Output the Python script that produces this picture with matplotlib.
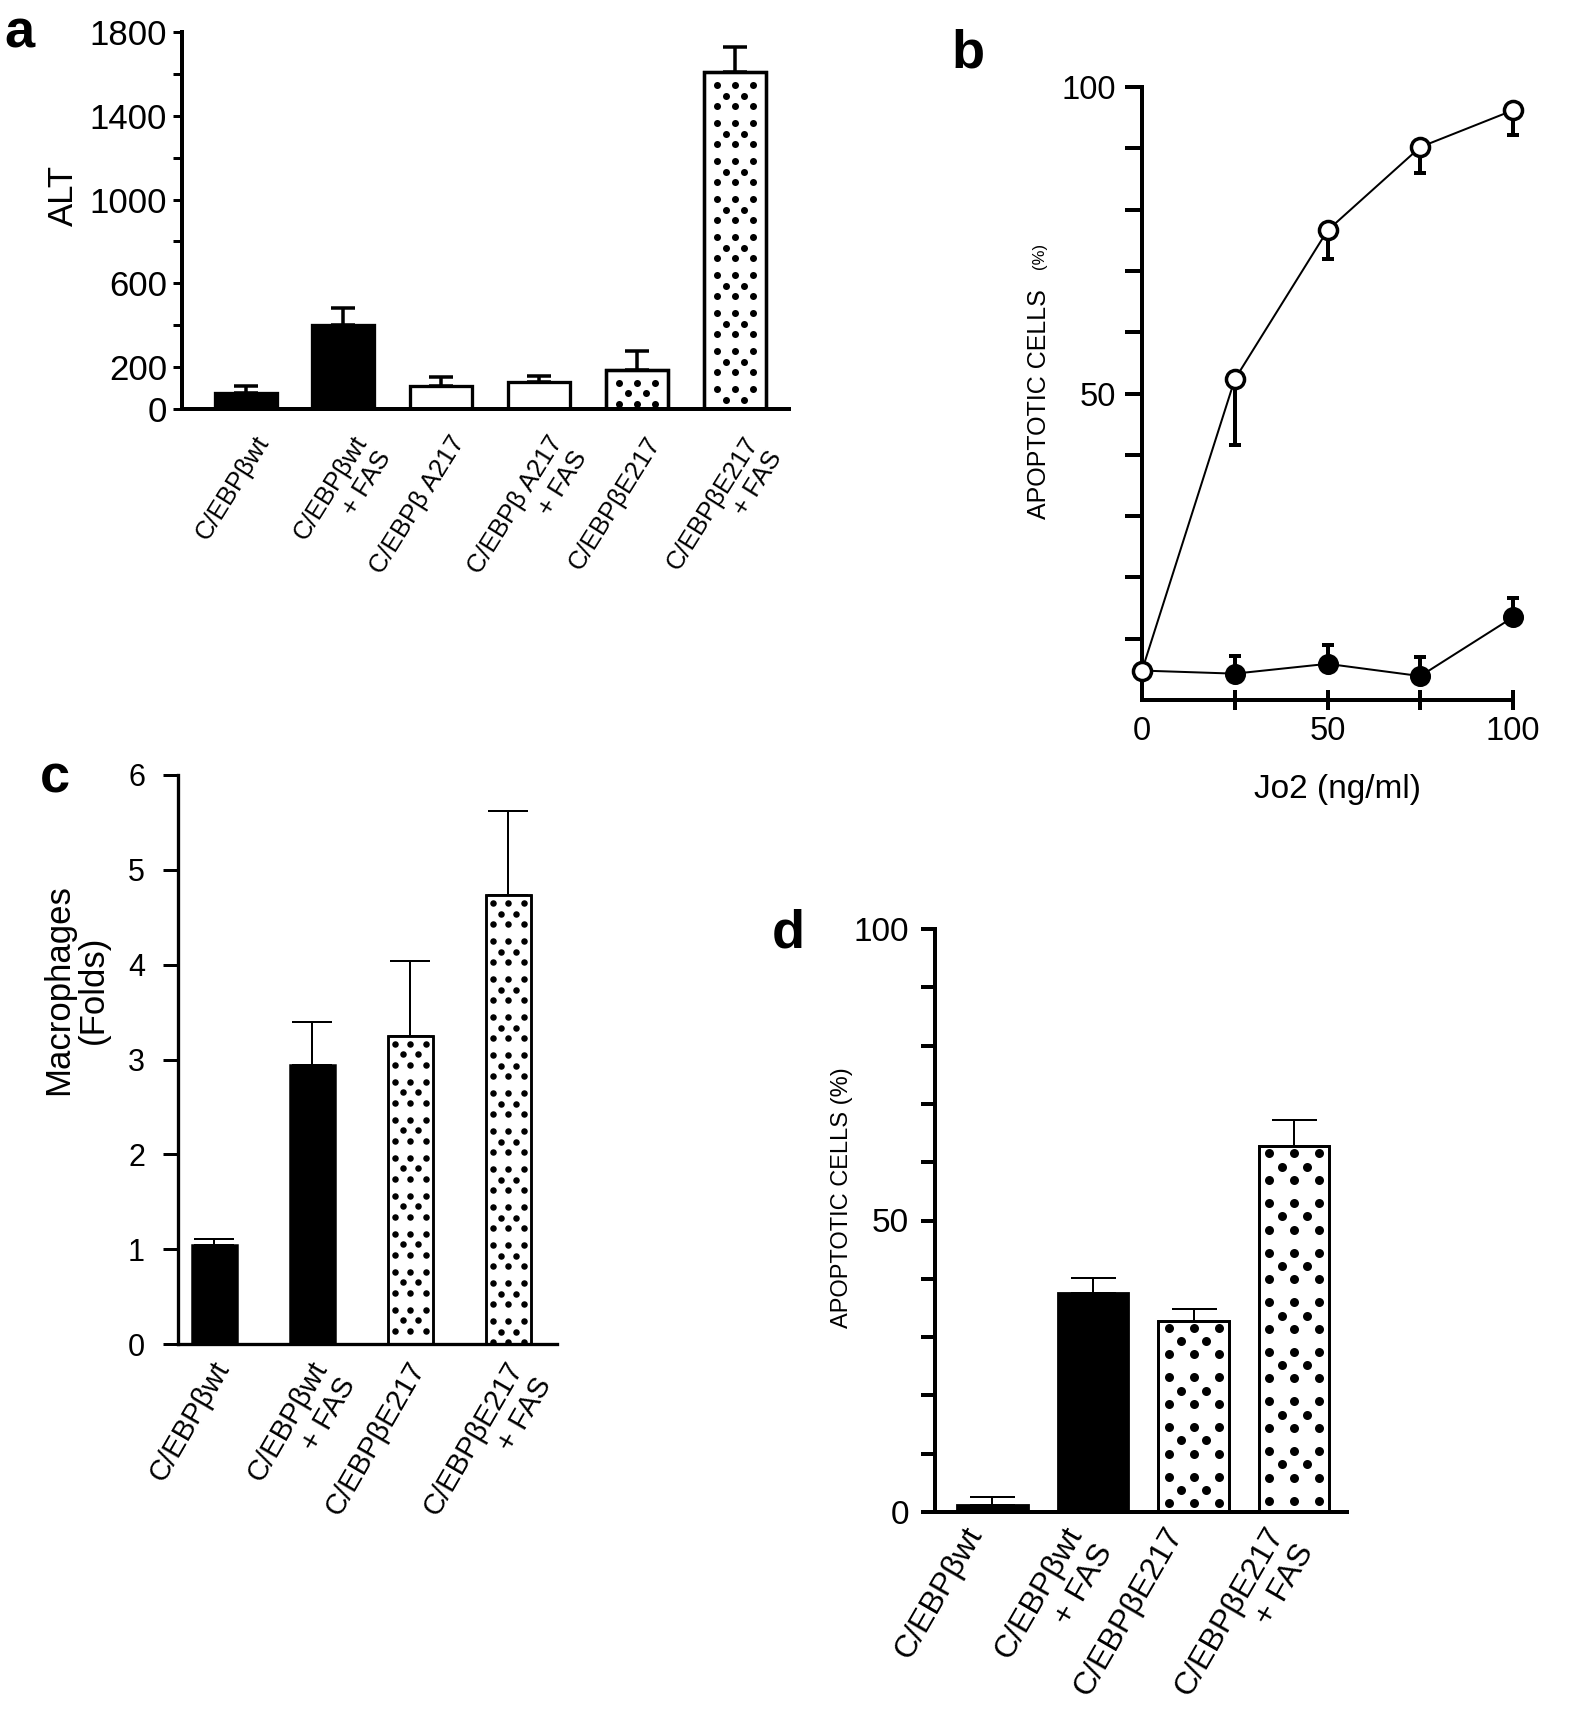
import numpy as np
import matplotlib
matplotlib.use('Agg')
import matplotlib.pyplot as plt

plt.rcParams['font.family'] = ['Liberation Sans', 'DejaVu Sans']

W, H, DPI = 1575, 1727, 100

# ---------
# Data
# ---------
a_labels = ['C/EBPβwt', 'C/EBPβwt\n+ FAS', 'C/EBPβ A217', 'C/EBPβ A217\n+ FAS',
            'C/EBPβE217', 'C/EBPβE217\n+ FAS']
a_values = [78, 401, 111, 127, 187, 1607]
a_err = [33, 81, 40, 32, 92, 119]
a_fill = ['black', 'black', 'open', 'open', 'dots', 'dots']
a_ticks = [0, 200, 400, 600, 800, 1000, 1200, 1400, 1600, 1800]
a_ticklabels = ['0', '200', '', '600', '', '1000', '', '1400', '', '1800']

b_dose = [0, 25, 50, 75, 100]
b_open = [4.8, 52.3, 76.6, 90.2, 96.2]
b_open_err = [0, 10.7, 4.6, 4.2, 4.0]
b_filled = [4.8, 4.3, 5.9, 3.9, 13.5]
b_filled_err = [0, 2.9, 3.1, 3.1, 3.2]

c_labels = ['C/EBPβwt', 'C/EBPβwt\n+ FAS', 'C/EBPβE217', 'C/EBPβE217\n+ FAS']
c_values = [1.04, 2.94, 3.25, 4.73]
c_err = [0.07, 0.46, 0.79, 0.89]
c_fill = ['black', 'black', 'dots', 'dots']

d_labels = ['C/EBPβwt', 'C/EBPβwt\n+ FAS', 'C/EBPβE217', 'C/EBPβE217\n+ FAS']
d_values = [1.2, 37.5, 32.8, 62.7]
d_err = [1.3, 2.7, 2.0, 4.5]
d_fill = ['black', 'black', 'dots', 'dots']


def px_rect(left, top, right, bottom):
    """ Pixel box -> figure fraction rect """
    return [left / W, 1 - bottom / H, (right - left) / W, (bottom - top) / H]


def fx(x):
    return x / W


def fy(y):
    return 1 - y / H


def pt(px):
    return px * 72. / DPI


def style_axes(ax, lw):
    for s in ['top', 'right']:
        ax.spines[s].set_visible(False)
    for s in ['left', 'bottom']:
        ax.spines[s].set_linewidth(pt(lw))
        ax.spines[s].set_capstyle('projecting')


def dot_fill(ax, rects, dx, dy, gap, size, first=8):
    """ Dotted texture inside bars: rows of 3-2-3 dots, then a gap (pixels) """
    inv = ax.transData.inverted()
    period = 2 * dy + gap
    for r in rects:
        (x0, y0), (x1, y1) = ax.transData.transform(
            [[r.get_x(), r.get_y()], [r.get_x() + r.get_width(), r.get_y() + r.get_height()]])
        xc = (x0 + x1) / 2.
        pts = []
        top = y1 - first
        k = 0
        while top - k * period > y0 - size:
            for j, off in enumerate([0, dy, 2 * dy]):
                yy = top - k * period - off
                cols = [-1, 0, 1] if j != 1 else [-0.5, 0.5]
                for c in cols:
                    pts.append((xc + c * dx, yy))
            k += 1
        data = inv.transform(np.array(pts))
        sc = ax.scatter(data[:, 0], data[:, 1], s=pt(size) ** 2, color='black',
                        linewidths=0, zorder=2.5)
        sc.set_clip_path(r)


def bar_panel(ax, values, err, fills, width, lw, elw, capsize, dots):
    x = np.arange(len(values))
    face = ['black' if f == 'black' else 'white' for f in fills]
    bars = ax.bar(x, values, width=width, color=face, edgecolor='black',
                  linewidth=pt(lw), zorder=2)
    ax.errorbar(x, values, yerr=[np.zeros(len(err)), err], fmt='none', ecolor='black',
                elinewidth=pt(elw), capsize=capsize, capthick=pt(elw), zorder=1)
    dotted = [b for b, f in zip(bars, fills) if f == 'dots']
    if dotted:
        dot_fill(ax, dotted, *dots)
        for b in dotted:
            ax.bar(b.get_x() + b.get_width() / 2., b.get_height(), width=width, fill=False,
                   edgecolor='black', linewidth=pt(lw), zorder=3)
    return x


def cat_labels(ax, x, labels, rot, size, dx, pad):
    """ Rotated category names; the end of the first line sits under the bar """
    ax.set_xticks(x)
    ax.set_xticklabels([])
    ax.tick_params(axis='x', length=0)
    for xi, lab in zip(x, labels):
        ax.annotate(lab, xy=(xi, 0), xycoords=('data', 'axes fraction'),
                    xytext=(pt(dx), -pt(pad)), textcoords='offset points',
                    rotation=rot, rotation_mode='anchor', ha='right', va='top',
                    multialignment='right', fontsize=size, annotation_clip=False)


fig = plt.figure(figsize=(W / DPI, H / DPI), dpi=DPI)

# ---
# a
# ---
ax = fig.add_axes(px_rect(182, 32, 789, 409))
style_axes(ax, 4)
ax.set_xlim(-0.649, 5.55)
ax.set_ylim(0, 1800)
x = bar_panel(ax, a_values, a_err, a_fill, 0.633, 3.3, 3.5, 8.6, (18, 10.5, 17, 7, 13))
ax.set_yticks(a_ticks)
ax.set_yticklabels(a_ticklabels)
ax.tick_params(axis='y', direction='out', length=pt(9), width=pt(3), pad=pt(6), labelsize=25)
cat_labels(ax, x, a_labels, 58, 18.5, 8, 23)
fig.text(fx(63), fy(195), 'ALT', rotation=90, ha='center', va='center', fontsize=25)

# ---
# b
# ---
ax = fig.add_axes(px_rect(1142, 87, 1513, 700))
style_axes(ax, 4)
ax.set_xlim(0, 100)
ax.set_ylim(0, 100)
ax.errorbar(b_dose, b_open, yerr=[b_open_err, np.zeros(5)], fmt='none', ecolor='black',
            elinewidth=pt(4), capsize=4.6, capthick=pt(4), zorder=1, clip_on=False)
ax.errorbar(b_dose, b_filled, yerr=[np.zeros(5), b_filled_err], fmt='none', ecolor='black',
            elinewidth=pt(4), capsize=4.6, capthick=pt(4), zorder=1, clip_on=False)
ax.plot(b_dose, b_filled, color='black', lw=pt(2), marker='o', ms=13, mew=pt(3),
        mfc='black', mec='black', markevery=[1, 2, 3, 4], zorder=3, clip_on=False)
ax.plot(b_dose, b_open, color='black', lw=pt(2), marker='o', ms=13, mew=pt(3.5),
        mfc='white', mec='black', zorder=4, clip_on=False)
ax.set_yticks(np.arange(10, 101, 10))
ax.set_yticklabels(['' if v not in (50, 100) else str(v) for v in range(10, 101, 10)])
ax.tick_params(axis='y', direction='out', length=pt(17), width=pt(4), pad=pt(9), labelsize=23.5)
ax.set_xticks(b_dose)
ax.set_xticklabels(['0', '', '50', '', '100'])
ax.tick_params(axis='x', direction='inout', length=pt(20), width=pt(4), pad=pt(6), labelsize=23.5)
ax.xaxis.get_major_ticks()[0].tick1line.set_visible(False)
fig.text(fx(1039), fy(404), 'APOPTOTIC CELLS', rotation=90, ha='center', va='center', fontsize=18)
fig.text(fx(1039), fy(256), '(%)', rotation=90, ha='center', va='center', fontsize=12)
fig.text(fx(1337), fy(790), 'Jo2 (ng/ml)', ha='center', va='center', fontsize=24)

# ---
# c
# ---
ax = fig.add_axes(px_rect(178, 775, 557, 1344))
style_axes(ax, 3.3)
ax.set_xlim(-0.372, 3.495)
ax.set_ylim(0, 6)
x = bar_panel(ax, c_values, c_err, c_fill, 0.46, 2.5, 2, 14.4, (15.5, 10.5, 17, 6.5, 8))
ax.set_yticks(np.arange(0, 7))
ax.tick_params(axis='y', direction='out', length=pt(15), width=pt(3), pad=pt(18), labelsize=22)
cat_labels(ax, x, c_labels, 60, 21, -4, 13)
fig.text(fx(76), fy(990), 'Macrophages\n(Folds)', rotation=90, ha='center', va='center',
         fontsize=25, multialignment='center', linespacing=1.05)

# ---
# d
# ---
ax = fig.add_axes(px_rect(935, 929, 1347, 1512))
style_axes(ax, 4)
ax.set_xlim(-0.572, 3.527)
ax.set_ylim(0, 100)
x = bar_panel(ax, d_values, d_err, d_fill, 0.70, 2.8, 2, 16.2, (25, 13.3, 23, 9, 7))
ax.set_yticks(np.arange(0, 101, 10))
ax.set_yticklabels(['' if v not in (0, 50, 100) else str(v) for v in range(0, 101, 10)])
ax.tick_params(axis='y', direction='out', length=pt(14), width=pt(4), pad=pt(12), labelsize=24)
cat_labels(ax, x, d_labels, 60, 23, -30, 10)
fig.text(fx(842), fy(1198), 'APOPTOTIC CELLS (%)', rotation=90, ha='center', va='center',
         fontsize=17)

# Panel letters
for letter, (lx, ly) in zip('abcd', [(19, 33), (968, 54), (55, 779), (788, 934)]):
    fig.text(fx(lx), fy(ly), letter, ha='center', va='center', fontsize=39, fontweight='bold')

fig.savefig('out.png', dpi=DPI)
